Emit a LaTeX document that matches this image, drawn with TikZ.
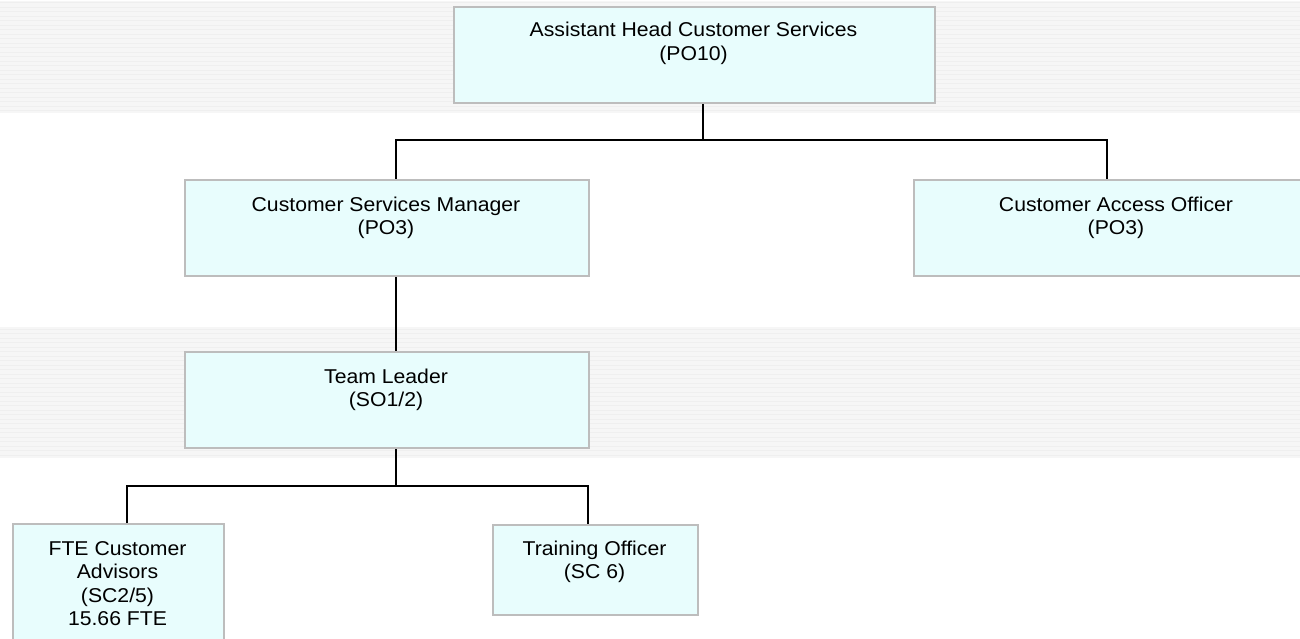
\documentclass[tikz,border=0pt]{standalone}
\usepackage{fontspec}
\setmainfont{Liberation Sans}[FakeStretch=1.06]
\usetikzlibrary{calc}
\definecolor{bandgray}{HTML}{F6F6F6}
\definecolor{bandline}{HTML}{EFEFEF}
\definecolor{boxfill}{HTML}{E8FDFD}
\definecolor{boxborder}{HTML}{BDBDBD}
\tikzset{
  orgbox/.style={draw=boxborder, line width=2pt, fill=boxfill, rectangle, inner sep=0pt, anchor=north west},
  orgtext/.style={anchor=base, align=center, inner sep=0pt, font=\fontsize{20}{23.5}\selectfont, text=black},
  conn/.style={draw=black, line width=2pt},
}
\begin{document}
\begin{tikzpicture}[x=1pt,y=-1pt]
\useasboundingbox (0,0) rectangle (1300,639);
\clip (0,0) rectangle (1300,639);
\fill[white] (0,0) rectangle (1300,639);
% background bands
\fill[bandgray] (0,1) rectangle (1300,113);
\fill[bandgray] (0,327) rectangle (1300,458);
\foreach \y in {3,7.5,...,111} {\draw[bandline, line width=1pt] (0,\y) -- (1300,\y);}
\foreach \y in {329,333.5,...,456} {\draw[bandline, line width=1pt] (0,\y) -- (1300,\y);}
% boxes
\node[orgbox, minimum width=481pt, minimum height=96pt] (ahcs) at (453,6) {};
\node[orgbox, minimum width=404pt, minimum height=96pt] (csm) at (184,179) {};
\node[orgbox, minimum width=407pt, minimum height=96pt] (cao) at (913,179) {};
\node[orgbox, minimum width=404pt, minimum height=96pt] (tl) at (184,351) {};
\node[orgbox, minimum width=211pt, minimum height=130pt] (fte) at (12,523) {};
\node[orgbox, minimum width=205pt, minimum height=90pt] (tro) at (492,524) {};
% texts (anchor = baseline of last line)
\node[orgtext] (ahcsT) at (693.5,60.5) {Assistant Head Customer Services\\(PO10)};
\node[orgtext] (csmT) at (386,234.5) {Customer Services Manager\\(PO3)};
\node[orgtext] (caoT) at (1116,234.5) {Customer Access Officer\\(PO3)};
\node[orgtext] (tlT) at (386,406.5) {Team Leader\\(SO1/2)};
\node[orgtext] (fteT) at (117.5,625.5) {FTE Customer\\Advisors\\(SC2/5)\\15.66 FTE};
\node[orgtext] (troT) at (594.5,578.5) {Training Officer\\(SC 6)};
% connectors
\coordinate (j1) at (703,140);
\coordinate (j2) at (396,486);
\draw[conn] (ahcs.south -| j1) -- (j1);
\draw[conn] (csm.north -| 396,0) |- (j1) -| (cao.north -| 1107,0);
\draw[conn] (csm.south -| 396,0) -- (tl.north -| 396,0);
\draw[conn] (tl.south -| j2) -- (j2);
\draw[conn] (fte.north -| 127,0) |- (j2) -| (tro.north -| 588,0);
\end{tikzpicture}
\end{document}
